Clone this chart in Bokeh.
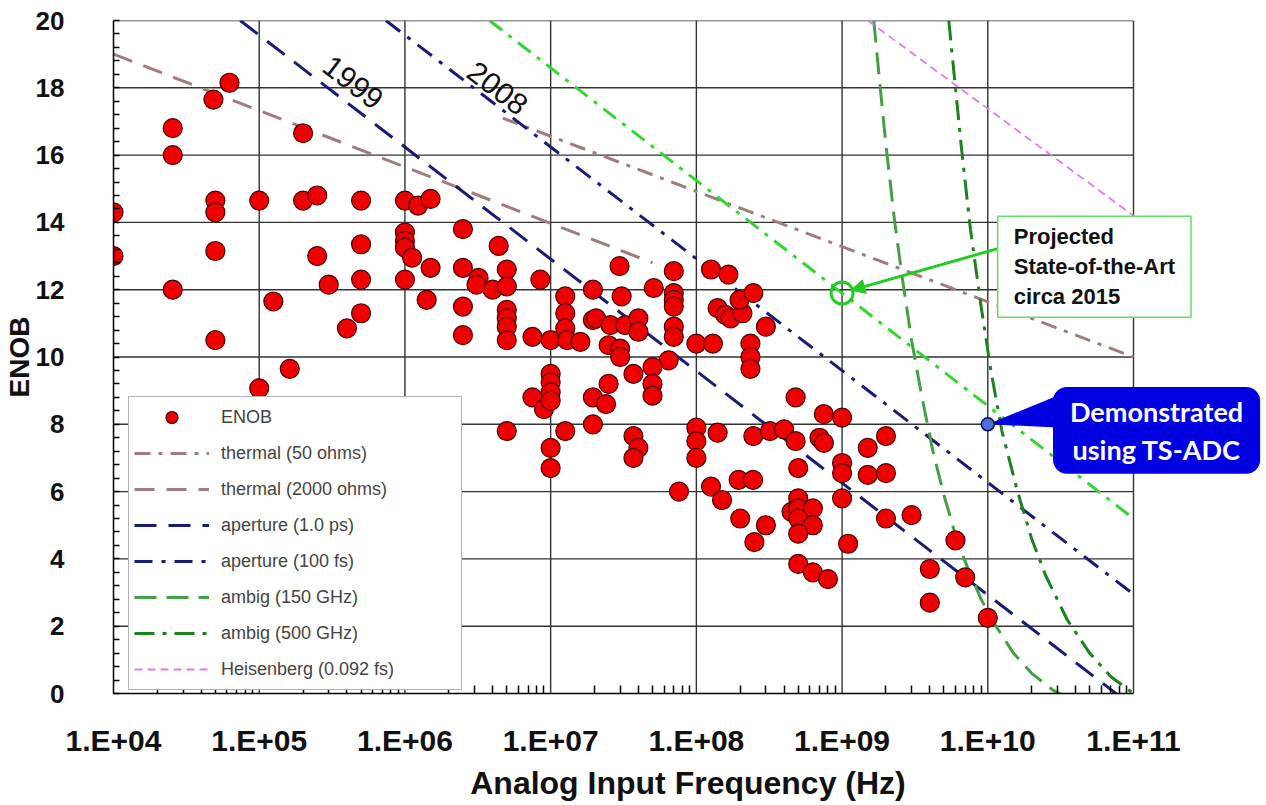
from bokeh.plotting import figure
from bokeh.models import (Label, Legend, LegendItem, FixedTicker, CustomJSTickFormatter,
                          Arrow, NormalHead, Range1d)
from bokeh.embed import file_html
from bokeh.resources import INLINE

# ---------------- data ----------------
enob_freq_hz = [
    1e4, 1e4, 2.55e4, 2.55e4, 2.55e4, 4.85e4, 6.25e4, 5e4, 5e4, 5e4, 5e4,
    1e5, 1.25e5, 1e5, 1.62e5, 2e5, 2.5e5, 2e5, 2.5e5, 3e5,
    5e5, 5e5, 5e5, 5e5, 4.0e5,
    1e6, 1.23e6, 1.5e6, 1e6, 1e6, 1e6, 1.12e6, 1e6, 1.5e6, 1.41e6,
    2.5e6, 2.5e6, 3.2e6, 3.1e6, 2.5e6, 2.5e6, 4.4e6, 4e6,
    5e6, 5e6, 5e6, 5e6, 5e6, 5e6, 8.5e6, 7.5e6,
    1e7, 1.26e7, 1.26e7, 1.26e7, 1.3e7, 1.6e7, 1.95e7, 1.95e7,
    1e7, 1e7, 1e7, 7.5e6, 9e6, 1e7, 5e6, 1.26e7, 1.95e7, 1.95e7, 1e7, 1e7,
    2.97e7, 3.07e7, 5.1e7, 7e7, 7e7, 7e7, 7e7, 7e7, 7e7,
    2.05e7, 2.57e7, 3.24e7, 4e7, 4e7, 2.5e7, 3e7, 3e7, 6.45e7, 3.7e7,
    5e7, 5e7, 5e7, 2.5e7, 2.4e7, 3.7e7, 4e7, 3.7e7, 7.6e7,
    1e8, 1e8, 1e8, 1.4e8, 1.26e8, 1.5e8,
    1.26e8, 1.66e8, 1.4e8, 1.58e8, 1.72e8, 2.07e8, 1.98e8, 2.46e8, 3e8,
    1e8, 1.3e8, 2.35e8, 2.35e8, 2.35e8, 2.46e8, 3.2e8, 4e8, 4.8e8, 4.8e8,
    1.95e8, 2.45e8,
    7.5e8, 1e9, 7e8, 7.5e8, 5e8, 1e9, 1e9, 1.5e9, 2e9, 1.5e9, 2e9, 1e9, 2e9,
    2e8, 3e8, 2.5e8, 5e8, 4.5e8, 5e8, 6.3e8, 5e8, 6.3e8, 5e8,
    5e8, 6.3e8, 8e8, 1.1e9, 3e9, 6e9, 4e9, 7e9, 4e9, 1e10,
]
enob_bits = [
    14.3, 13.0, 16.8, 16.0, 12.0, 17.65, 18.15, 14.65, 14.3, 13.15, 10.5,
    14.65, 11.65, 9.07, 9.65, 14.65, 14.8, 16.65, 13.0, 12.15,
    14.65, 13.35, 12.3, 11.3, 10.85,
    14.65, 14.5, 14.7, 13.7, 13.45, 13.25, 12.95, 12.3, 12.65, 11.7,
    13.8, 12.65, 12.35, 12.15, 11.5, 10.65, 13.3, 12.0,
    12.6, 12.1, 11.4, 11.15, 10.9, 10.5, 12.3, 10.6,
    10.5, 11.8, 11.3, 10.85, 10.5, 10.45, 12.0, 11.1,
    9.5, 9.25, 8.95, 8.8, 8.45, 8.7, 7.8, 7.8, 8.8, 8.0, 7.3, 6.7,
    12.7, 11.8, 12.05, 12.55, 11.9, 11.7, 11.5, 10.9, 10.6,
    11.15, 10.95, 10.95, 11.15, 10.75, 10.35, 10.25, 10.0, 9.9, 9.5,
    9.7, 9.2, 8.85, 9.2, 8.6, 7.65, 7.3, 7.0, 6.0,
    7.9, 7.5, 7.0, 7.75, 6.15, 5.75,
    12.6, 12.45, 11.45, 11.25, 11.15, 11.3, 11.7, 11.9, 10.9,
    10.4, 10.4, 10.4, 10.0, 9.65, 7.65, 7.8, 7.85, 7.5, 8.8,
    6.35, 6.35,
    8.3, 8.2, 7.6, 7.45, 6.7, 6.85, 6.55, 7.3, 7.65, 6.5, 6.55, 5.8, 5.2,
    5.2, 5.0, 4.5, 5.8, 5.4, 5.5, 5.5, 5.2, 5.0, 4.75,
    3.85, 3.6, 3.4, 4.45, 5.3, 4.55, 3.7, 3.45, 2.7, 2.25,
]

thermal50_freq = [4.7e6, 1e11]
thermal50_bits = [17.1, 10.0]
thermal2000_freq = [1e4, 5e7]
thermal2000_bits = [19.0, 12.8]
aperture1ps_freq = [7.4e4, 1e11]
aperture1ps_bits = [20.0, -0.4]
aperture100fs_freq = [7.4e5, 1e11]
aperture100fs_bits = [20.0, 2.95]
ambig150_freq = [1.65e9, 1.8e9, 2.0e9, 2.3e9, 2.6e9, 3.0e9, 3.5e9, 4.2e9, 5.0e9,
                 6.2e9, 7.5e9, 9.0e9, 1.1e10, 1.5e10, 2.0e10, 2.8e10, 4.0e10, 4.6e10]
ambig150_bits = [20.0, 18.3, 16.3, 14.0, 12.3, 10.5, 8.9, 7.2, 5.9,
                 4.5, 3.6, 2.8, 2.1, 1.2, 0.6, 0.1, -0.25, -0.35]
ambig500_freq = [5.4e9, 6.0e9, 6.6e9, 7.6e9, 9.0e9, 1.05e10, 1.25e10, 1.6e10,
                 2.0e10, 2.5e10, 3.5e10, 5.0e10, 7.0e10, 1.0e11]
ambig500_bits = [20.0, 18.0, 16.2, 13.8, 11.5, 9.6, 7.8, 6.0,
                 4.6, 3.5, 2.2, 1.2, 0.5, 0.0]
heisenberg_freq = [1.5e9, 1e11]
heisenberg_bits = [20.0, 14.2]
projected_freq = [3.8e6, 1e11]
projected_bits = [20.0, 5.2]

projected_point_freq = [1e9]
projected_point_bits = [11.9]
demo_point_freq = [1e10]
demo_point_bits = [8.0]

x_ticks = [1e4, 1e5, 1e6, 1e7, 1e8, 1e9, 1e10, 1e11]
x_tick_labels = ["1.E+04", "1.E+05", "1.E+06", "1.E+07", "1.E+08", "1.E+09", "1.E+10", "1.E+11"]
y_ticks = [0, 2, 4, 6, 8, 10, 12, 14, 16, 18, 20]

# ---------------- styling ----------------
SANS = "Liberation Sans"
C_THERM = "#a07c7c"
C_APER = "#1a1a78"
C_AMB150 = "#45a045"
C_AMB500 = "#1f801f"
C_PROJ = "#33d633"
C_HEIS = "#e07ee0"
C_BLUE = "#0000e0"
C_GRID = "#333333"

W, H = 1262, 805
LEFT, BOTTOM, TOP = 113, 112, 20
AXIS_W = 1020  # pixels used by the 7 decades 1e4..1e11
x_lo, x_hi_axis = x_ticks[0], x_ticks[-1]
extra_decades = (W - LEFT - AXIS_W) * 7.0 / AXIS_W
x_hi_view = x_hi_axis * 10 ** extra_decades   # room on the right for the call-outs

p = figure(width=W, height=H, x_axis_type="log",
           x_range=Range1d(x_lo, x_hi_view), y_range=Range1d(y_ticks[0], y_ticks[-1]),
           output_backend="svg", toolbar_location=None,
           min_border_left=LEFT, min_border_right=0,
           min_border_top=TOP, min_border_bottom=BOTTOM)
p.background_fill_color = "white"
p.border_fill_color = "white"
p.outline_line_color = None
p.xgrid.visible = False
p.ygrid.visible = False

xminor = [k * t for t in x_ticks[:-1] for k in range(2, 10)]
p.xaxis.ticker = FixedTicker(ticks=x_ticks, minor_ticks=xminor)
p.xaxis.bounds = (x_lo, x_hi_axis)
yminor = [i * 0.4 for i in range(51)]
p.yaxis.ticker = FixedTicker(ticks=y_ticks, minor_ticks=yminor)

p.xaxis.formatter = CustomJSTickFormatter(args=dict(labels=x_tick_labels),
                                          code="return labels[Math.round(Math.log10(tick)) - 4];")

for ax in (p.xaxis, p.yaxis):
    ax.axis_line_color = "black"
    ax.axis_line_width = 1.5
    ax.major_tick_in = 0
    ax.major_tick_out = 0
    ax.minor_tick_out = 0
    ax.minor_tick_line_color = "black"
    ax.minor_tick_line_width = 1.5
    ax.major_label_text_font = SANS
    ax.major_label_text_font_style = "bold"
    ax.major_label_text_color = "#111111"
    ax.axis_label_text_font = SANS
    ax.axis_label_text_font_style = "bold"
    ax.axis_label_text_color = "#111111"
p.xaxis.minor_tick_in = 8
p.yaxis.minor_tick_in = 6
p.xaxis.major_label_text_font_size = "30px"
p.yaxis.major_label_text_font_size = "26px"
p.xaxis.major_label_standoff = 30
p.yaxis.major_label_standoff = 49
p.xaxis.axis_label = "Analog Input Frequency (Hz)"
p.xaxis.axis_label_text_font_size = "32px"
p.xaxis.axis_label_standoff = 5
p.yaxis.axis_label = "ENOB"
p.yaxis.axis_label_text_font_size = "28px"
p.yaxis.axis_label_standoff = -2

# grid lines (stop at the last decade, leaving room for the call-outs)
p.segment(x0=x_ticks[1:], y0=[y_ticks[0]] * (len(x_ticks) - 1),
          x1=x_ticks[1:], y1=[y_ticks[-1]] * (len(x_ticks) - 1),
          line_color=C_GRID, line_width=1.4)
p.segment(x0=[x_lo] * (len(y_ticks) - 1), y0=y_ticks[1:],
          x1=[x_hi_axis] * (len(y_ticks) - 1), y1=y_ticks[1:],
          line_color=C_GRID, line_width=1.4)

# ---------------- curves ----------------
r_th50 = p.line(thermal50_freq, thermal50_bits, line_color=C_THERM, line_width=3, line_dash="16 8 4 8")
r_th2k = p.line(thermal2000_freq, thermal2000_bits, line_color=C_THERM, line_width=3, line_dash="20 12")
r_ap1 = p.line(aperture1ps_freq, aperture1ps_bits, line_color=C_APER, line_width=3, line_dash="22 12")
r_ap100 = p.line(aperture100fs_freq, aperture100fs_bits, line_color=C_APER, line_width=3, line_dash="18 9 4 9")
r_am150 = p.line(ambig150_freq, ambig150_bits, line_color=C_AMB150, line_width=3, line_dash="22 10")
r_am500 = p.line(ambig500_freq, ambig500_bits, line_color=C_AMB500, line_width=3, line_dash="20 8 4 8")
r_heis = p.line(heisenberg_freq, heisenberg_bits, line_color=C_HEIS, line_width=1.8, line_dash="8 5")
p.line(projected_freq, projected_bits, line_color=C_PROJ, line_width=3, line_dash="16 8 4 8")

r_enob = p.scatter(enob_freq_hz, enob_bits, size=19, fill_color="#ee0000",
                   line_color="#4a0000", line_width=1.2)

# projected state-of-the-art marker + arrow
p.scatter(projected_point_freq, projected_point_bits, size=22, fill_color=None,
          line_color="#22cc22", line_width=3)
p.add_layout(Arrow(end=NormalHead(size=14, fill_color="#22cc22", line_color="#22cc22"),
                   x_start=1.17e10, y_start=13.22, x_end=1.15e9, y_end=11.98,
                   line_color="#22cc22", line_width=3))

# demonstrated point + callout tail
p.patch([demo_point_freq[0], 3.2e10, 3.2e10],
        [demo_point_bits[0], demo_point_bits[0] + 0.9, demo_point_bits[0] - 0.1],
        fill_color=C_BLUE, line_color=None)
p.scatter(demo_point_freq, demo_point_bits, size=13, fill_color="#4f6fe0",
          line_color="#0a0a60", line_width=1.5)

# ---------------- legend ----------------
legend = Legend(items=[
    LegendItem(label="ENOB", renderers=[r_enob]),
    LegendItem(label="thermal (50 ohms)", renderers=[r_th50]),
    LegendItem(label="thermal (2000 ohms)", renderers=[r_th2k]),
    LegendItem(label="aperture (1.0 ps)", renderers=[r_ap1]),
    LegendItem(label="aperture (100 fs)", renderers=[r_ap100]),
    LegendItem(label="ambig (150 GHz)", renderers=[r_am150]),
    LegendItem(label="ambig (500 GHz)", renderers=[r_am500]),
    LegendItem(label="Heisenberg (0.092 fs)", renderers=[r_heis]),
], location=(15, 3))
legend.padding = 5
legend.margin = 0
legend.spacing = 6
legend.glyph_height = 30
legend.label_height = 30
legend.glyph_width = 75
legend.label_standoff = 12
legend.label_width = 235
legend.label_text_font = SANS
legend.label_text_font_size = "18px"
legend.label_text_color = "#444444"
legend.border_line_color = "#666666"
legend.border_line_width = 1.5
legend.background_fill_color = "white"
legend.background_fill_alpha = 1.0
p.add_layout(legend)

# ---------------- text annotations ----------------
p.add_layout(Label(x=4.4e5, y=18.15, text="1999", angle=-37.5, angle_units="deg",
                   text_align="center", text_baseline="middle",
                   text_font=SANS, text_font_size="30px", text_color="#111111"))
p.add_layout(Label(x=4.3e6, y=17.98, text="2008", angle=-37.5, angle_units="deg",
                   text_align="center", text_baseline="middle",
                   text_font=SANS, text_font_size="30px", text_color="#111111"))

p.add_layout(Label(x=1.17e10, y=14.18, text="Projected\nState-of-the-Art\ncirca 2015",
                   text_align="left", text_baseline="top",
                   text_font=SANS, text_font_style="bold", text_font_size="22px",
                   text_line_height=1.2, text_color="#111111",
                   background_fill_color="white", border_line_color="#66dd66",
                   border_line_width=1.5,
                   padding=dict(left=16, right=16, top=8, bottom=8)))

p.add_layout(Label(x=1.44e11, y=7.82, text="Demonstrated\nusing TS-ADC",
                   text_align="center", text_baseline="middle",
                   text_font="Lato", text_font_style="bold", text_font_size="27px",
                   text_line_height=1.15, text_color="white",
                   background_fill_color=C_BLUE, border_radius=14,
                   padding=dict(left=17, right=17, top=8, bottom=8)))

open("out.html", "w").write(file_html(p, INLINE))
